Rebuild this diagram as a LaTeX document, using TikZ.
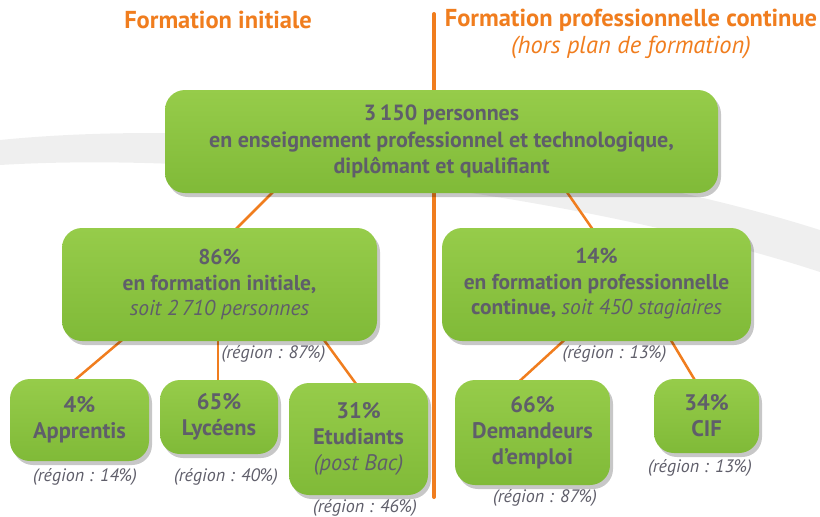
\documentclass[tikz,border=0pt]{standalone}
\usepackage{fontspec}
\setmainfont{PT Sans}
\usetikzlibrary{shadows,calc}
\definecolor{orng}{RGB}{240,125,30}
\definecolor{txt}{RGB}{95,94,106}
\definecolor{gtop}{RGB}{150,204,74}
\definecolor{gbot}{RGB}{128,186,56}
\definecolor{bandc}{RGB}{239,239,239}
\begin{document}
\begin{tikzpicture}[x=1pt,y=-1pt,
 gbox/.style={rounded corners=20pt, top color=gtop, bottom color=gbot, draw=none, text=txt, align=center, inner sep=0pt,
   drop shadow={shadow xshift=3pt, shadow yshift=-4pt, opacity=0.22, fill=black}},
 link/.style={draw=orng, line width=2.5pt},
 reg/.style={text=txt, font=\itshape\fontsize{18}{20}\selectfont},
 ttl/.style={text=orng, font=\bfseries\fontsize{24.5}{28}\selectfont},
 fbig/.style={font=\bfseries\fontsize{22}{26.5}\selectfont},
 fmid/.style={font=\bfseries\fontsize{21.5}{25.5}\selectfont},
 fsml/.style={font=\bfseries\fontsize{22.5}{26}\selectfont}]
\useasboundingbox (0,0) rectangle (820,517);
% background swoosh
\fill[bandc] (0,140) .. controls (250,115) and (600,160) .. (820,230) -- (820,272) .. controls (600,200) and (250,150) .. (0,165) -- cycle;
% titles
\node[ttl] (t1) at (218,20) {Formation initiale};
\node[ttl] (t2) at (631,20) {Formation professionnelle continue};
\node[text=orng, font=\itshape\fontsize{24.5}{28}\selectfont] (t3) at (631,47) {(hors plan de formation)};
% vertical divider
\coordinate (vt) at (434,14);
\coordinate (vb) at (434,497);
\draw[orng, line width=4pt, line cap=round] (vt) -- (vb);
% connector end points
\coordinate (a1) at (280,185); \coordinate (a2) at (225,240);
\coordinate (b1) at (562,185); \coordinate (b2) at (607,250);
\coordinate (c1) at (128,335); \coordinate (c2) at (63,390);
\coordinate (d1) at (218,335); \coordinate (d2) at (218,388);
\coordinate (e1) at (313,325); \coordinate (e2) at (362,392);
\coordinate (f1) at (571,334); \coordinate (f2) at (512,388);
\coordinate (g1) at (663,327); \coordinate (g2) at (702,392);
\draw[link] (a1) -- (a2);
\draw[link] (b1) -- (b2);
\draw[link] (c1) -- (c2);
\draw[link] (d1) -- (d2);
\draw[link] (e1) -- (e2);
\draw[link] (f1) -- (f2);
\draw[link] (g1) -- (g2);
% boxes
\node[gbox, fbig, minimum width=553pt, minimum height=103pt] (top) at (441.5,141.5)
  {3\,150 personnes\\en enseignement professionnel et technologique,\\diplômant et qualifiant};
\node[gbox, fmid, minimum width=315pt, minimum height=113pt] (ini) at (219.5,284.5)
  {86\%\\en formation initiale,\\{\mdseries\itshape soit 2\,710 personnes}};
\node[gbox, fmid, minimum width=309pt, minimum height=113pt, text depth=6pt] (pro) at (596.5,284.5)
  {14\%\\en formation professionnelle\\continue, {\mdseries\itshape soit 450 stagiaires}};
\node[gbox, fsml, minimum width=139pt, minimum height=82pt] (app) at (79.5,420)
  {4\%\\Apprentis};
\node[gbox, fsml, minimum width=118pt, minimum height=74pt] (lyc) at (219,417)
  {65\%\\Lycéens};
\node[gbox, fsml, minimum width=139pt, minimum height=112pt] (etu) at (358.5,439)
  {31\%\\Etudiants\\{\mdseries\itshape (post Bac)}};
\node[gbox, fsml, minimum width=155pt, minimum height=105pt] (dem) at (532.5,432.5)
  {66\%\\Demandeurs\\d'emploi};
\node[gbox, fsml, minimum width=105pt, minimum height=74pt] (cif) at (706.5,416)
  {34\%\\CIF};
% region labels
\node[reg] (r1) at (273.5,354) {(région : 87\%)};
\node[reg] (r2) at (614.5,354) {(région : 13\%)};
\node[reg] (r3) at (85,477) {(région : 14\%)};
\node[reg] (r4) at (226,477) {(région : 40\%)};
\node[reg] (r5) at (365,508) {(région : 46\%)};
\node[reg] (r6) at (545,498) {(région : 87\%)};
\node[reg] (r7) at (700,468) {(région : 13\%)};
\end{tikzpicture}
\end{document}
